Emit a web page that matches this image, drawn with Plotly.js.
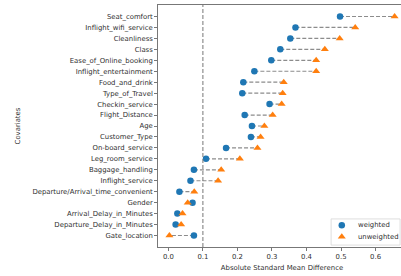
<!DOCTYPE html>
<html><head><meta charset="utf-8">
<script src="https://cdn.plot.ly/plotly-3.0.1.min.js"></script>
<style>html,body{margin:0;padding:0;overflow:hidden;width:401px;height:276px;background:#fff}#chart{width:410px;height:276px}</style>
</head><body><div id="chart"></div>
<script>
const covariates = ["Seat_comfort","Inflight_wifi_service","Cleanliness","Class","Ease_of_Online_booking","Inflight_entertainment","Food_and_drink","Type_of_Travel","Checkin_service","Flight_Distance","Age","Customer_Type","On-board_service","Leg_room_service","Baggage_handling","Inflight_service","Departure/Arrival_time_convenient","Gender","Arrival_Delay_in_Minutes","Departure_Delay_in_Minutes","Gate_location"];
const weighted = [0.497,0.368,0.353,0.324,0.298,0.249,0.217,0.214,0.293,0.221,0.242,0.239,0.167,0.109,0.074,0.064,0.032,0.070,0.026,0.021,0.074];
const unweighted = [0.655,0.541,0.496,0.453,0.428,0.428,0.334,0.331,0.328,0.302,0.278,0.267,0.258,0.207,0.153,0.144,0.075,0.056,0.041,0.037,0.003];
const seriesNames = ["weighted","unweighted"];
const threshold = 0.1;

const blue = "#1f77b4", orange = "#ff7f0e";
const lx = [], ly = [];
covariates.forEach((c,i)=>{ lx.push(weighted[i], unweighted[i], null); ly.push(c, c, null); });

const font = {family:"DejaVu Sans", size:6.9, color:"#303030"};
const legX = 0.741, legTextX = 0.797, legY = [0.0897, 0.0426];
const traces = [
  {x:lx, y:ly, mode:"lines", line:{color:"#8c8c8c", width:1.2, dash:"4px,2px"}, showlegend:false, hoverinfo:"skip"},
  {x:weighted, y:covariates, mode:"markers", name:seriesNames[0], showlegend:false, marker:{symbol:"circle", color:blue, size:6.5}},
  {x:unweighted, y:covariates, mode:"markers", name:seriesNames[1], showlegend:false, marker:{symbol:"triangle-up", color:orange, size:7}},
  // legend key markers (drawn on an overlay axis spanning the plot area 0..1)
  {x:[legX], y:[legY[0]], xaxis:"x2", yaxis:"y2", mode:"markers", showlegend:false, hoverinfo:"skip", marker:{symbol:"circle", color:blue, size:6.5}},
  {x:[legX], y:[legY[1]], xaxis:"x2", yaxis:"y2", mode:"markers", showlegend:false, hoverinfo:"skip", marker:{symbol:"triangle-up", color:orange, size:7}}
];
const n = covariates.length;
const layout = {
  width:410, height:276,
  margin:{l:158, r:4, t:5, b:29},
  paper_bgcolor:"#fff", plot_bgcolor:"#fff",
  font:font,
  xaxis:{range:[-0.030,0.688], tickvals:[0,0.1,0.2,0.3,0.4,0.5,0.6], ticktext:["0.0","0.1","0.2","0.3","0.4","0.5","0.6"],
    showgrid:false, zeroline:false, showline:true, mirror:true, linecolor:"#555", linewidth:0.8,
    ticks:"outside", ticklen:3, tickcolor:"#555", tickwidth:0.8, tickfont:font,
    title:{text:"Absolute Standard Mean Difference", font:font, standoff:4}},
  yaxis:{type:"category", categoryorder:"array", categoryarray:covariates, range:[n-1+1.05,-1.05],
    showgrid:false, zeroline:false, showline:true, mirror:true, linecolor:"#555", linewidth:0.8,
    ticks:"outside", ticklen:3, tickcolor:"#555", tickwidth:0.8, tickfont:font,
    title:{text:"Covariates", font:font, standoff:10}},
  xaxis2:{overlaying:"x", range:[0,1], visible:false, fixedrange:true},
  yaxis2:{overlaying:"y", range:[0,1], visible:false, fixedrange:true},
  shapes:[
    {type:"line", xref:"x", yref:"paper", x0:threshold, x1:threshold, y0:0, y1:1, line:{color:"#777", width:1, dash:"4px,2px"}},
    {type:"rect", xref:"paper", yref:"paper", x0:0.698, x1:0.976, y0:0.008, y1:0.116, layer:"below", fillcolor:"#fff", line:{color:"#d5d5d5", width:0.8}}
  ],
  annotations:[
    {xref:"paper", yref:"paper", x:legTextX, y:legY[0], xanchor:"left", yanchor:"middle", text:seriesNames[0], showarrow:false, font:font},
    {xref:"paper", yref:"paper", x:legTextX, y:legY[1], xanchor:"left", yanchor:"middle", text:seriesNames[1], showarrow:false, font:font}
  ],
  showlegend:false
};
Plotly.newPlot("chart", traces, layout, {staticPlot:true, displayModeBar:false});
</script></body></html>
